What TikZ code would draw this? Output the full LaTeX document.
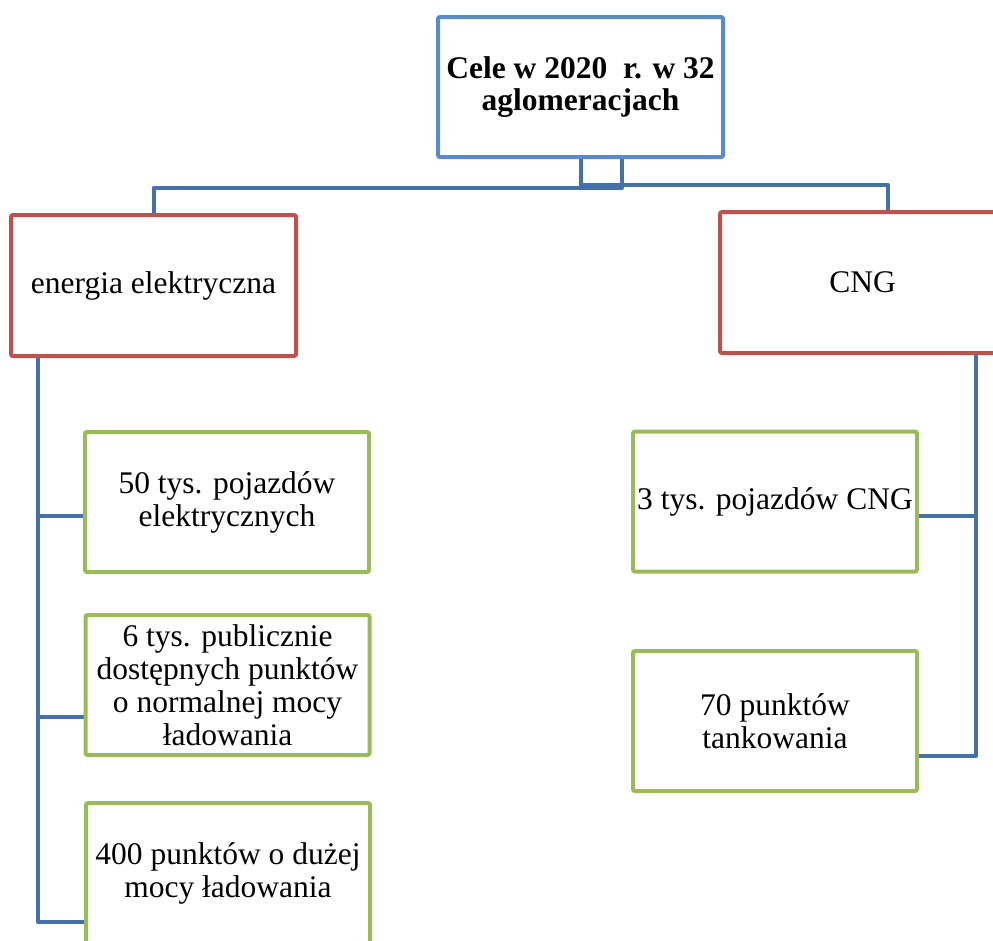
\documentclass[tikz,border=0pt]{standalone}
\usepackage{fontspec}
\setmainfont{Liberation Serif}
\usetikzlibrary{calc,backgrounds}
\definecolor{connblue}{RGB}{70,113,168}
\definecolor{topblue}{RGB}{88,139,200}
\definecolor{boxred}{RGB}{192,80,77}
\definecolor{boxgreen}{RGB}{155,187,89}
\tikzset{
  box/.style={draw, line width=4pt, fill=white, rounded corners=2pt, inner sep=0pt,
    align=center, font=\fontsize{31.5}{33}\selectfont},
  topbox/.style={box, draw=topblue, minimum width=285pt, minimum height=140pt,
    font=\fontsize{31.5}{32}\selectfont\bfseries},
  catbox/.style={box, draw=boxred, minimum width=285pt, minimum height=141pt},
  itembox/.style={box, draw=boxgreen, minimum width=284pt, minimum height=140pt},
  conn/.style={draw=connblue, line width=4pt, line join=round},
}
\begin{document}
\begin{tikzpicture}[x=1pt, y=-1pt]
\useasboundingbox (0,0) rectangle (993,940);
\clip (0,0) rectangle (993,940);
% nodes
\node[topbox] (top) at (580.5,87) {Cele w 2020~ r. w 32\\aglomeracjach};
\node[catbox] (elec) at (153.5,285.5) {energia elektryczna};
\node[catbox] (cng) at (862.5,282.5) {CNG};
\node[itembox] (e1) at (227,502) {50 tys. pojazdów\\elektrycznych};
\node[itembox] (e2) at (227.5,685) {6 tys. publicznie\\dostępnych punktów\\o normalnej mocy\\ładowania};
\node[itembox] (e3) at (228,873) {400 punktów o dużej\\mocy ładowania};
\node[itembox] (r1) at (775,501.5) {3 tys. pojazdów CNG};
\node[itembox] (r2) at (775,721) {70 punktów\\tankowania};
% connectors
\begin{scope}[on background layer]
  \fill[white] (0,0) rectangle (993,940);
  \draw[conn] ($(top.south)+(41,0)$) -- ++(0,29) -| (elec.north);
  \draw[conn] (top.south) -- ++(0,26) -| ($(cng.north)+(25.5,0)$);
  \coordinate (lv) at ($(elec.south west)+(29,0)$);
  \draw[conn] (lv) |- ($(e1.west)+(0,14)$);
  \draw[conn] (lv) |- ($(e2.west)+(0,32)$);
  \draw[conn] (lv) |- ($(e3.west)+(0,49)$);
  \coordinate (rv) at ($(cng.south west)+(258,0)$);
  \draw[conn] (rv) |- ($(r1.east)+(0,14.5)$);
  \draw[conn] (rv) |- ($(r2.east)+(0,35)$);
\end{scope}
\end{tikzpicture}
\end{document}
